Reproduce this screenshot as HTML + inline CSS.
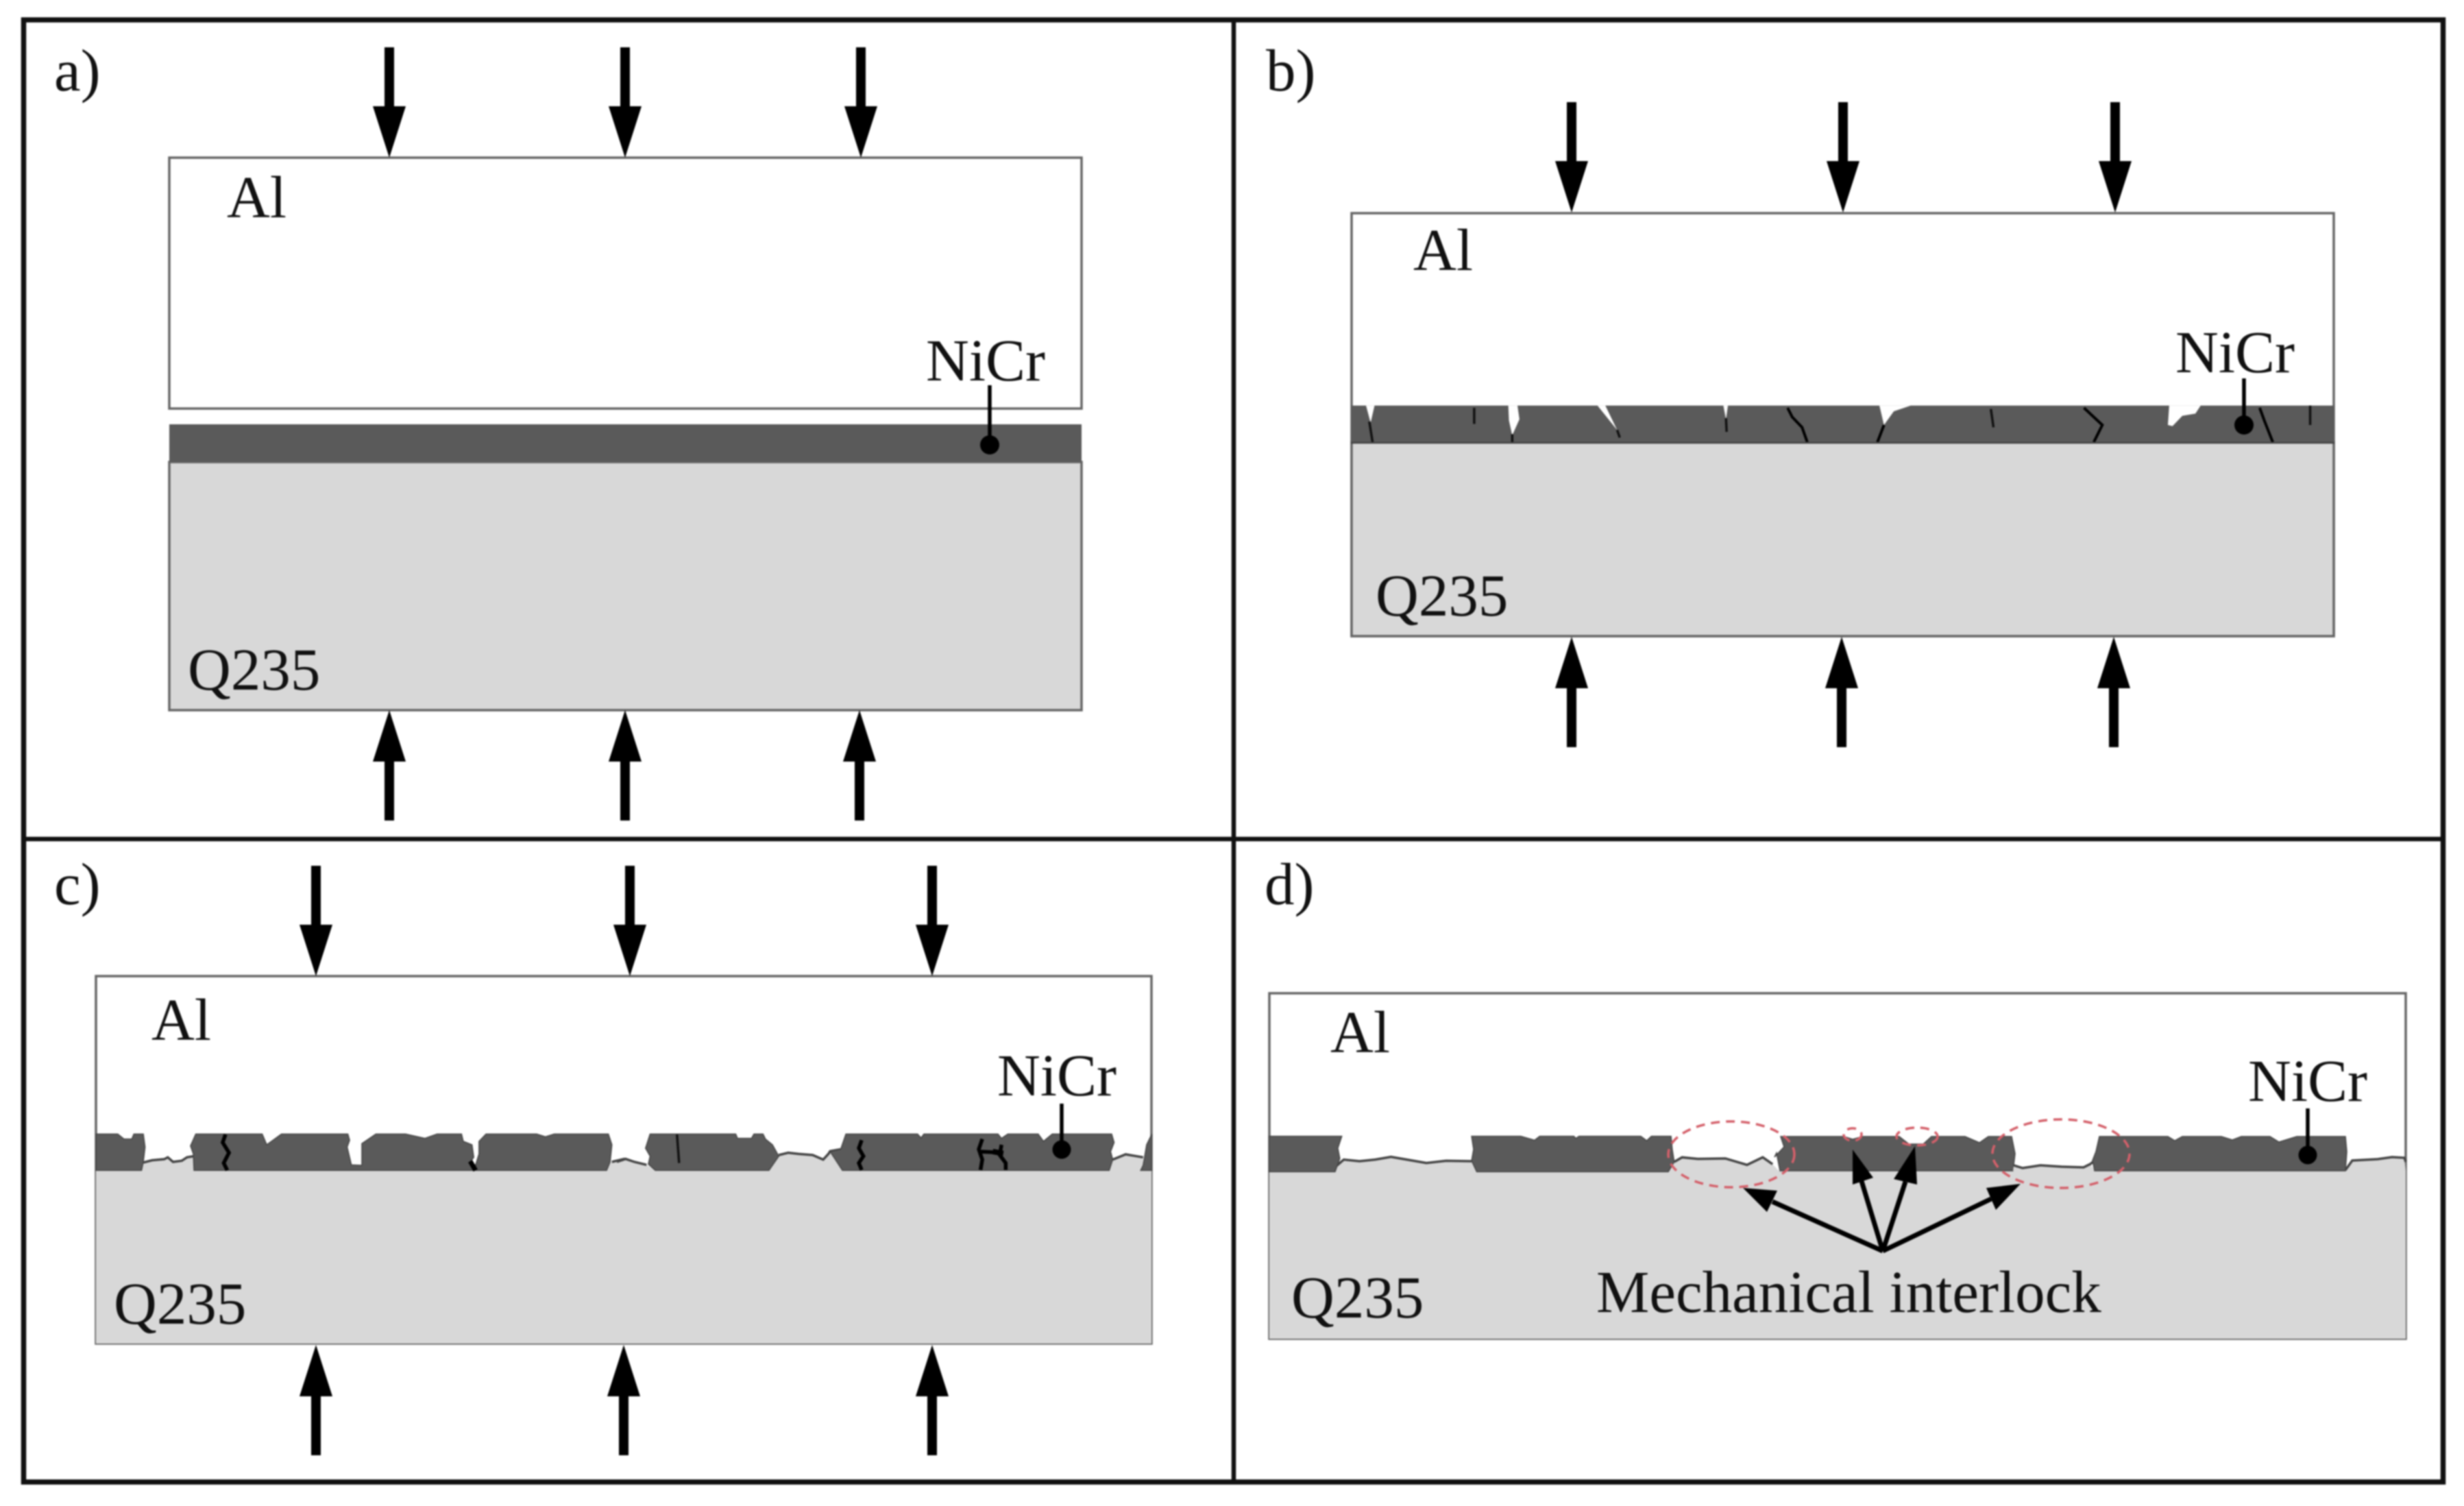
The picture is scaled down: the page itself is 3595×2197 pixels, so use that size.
<!DOCTYPE html>
<html><head><meta charset="utf-8"><style>
html,body{margin:0;padding:0;background:#fff}
svg{display:block;filter:blur(1.1px)}
text{font-family:"Liberation Serif",serif;font-size:87px;fill:#111}
.g{fill:#d8d8d8;stroke:none}
.d{fill:#5a5a5a;stroke:#444;stroke-width:1.5;vector-effect:non-scaling-stroke}
.w{fill:none;stroke:#444;stroke-width:3.5;vector-effect:non-scaling-stroke}
.c{fill:none;stroke:#111;stroke-width:3.5;vector-effect:non-scaling-stroke}
.ct{fill:none;stroke:#000;stroke-width:5.5;vector-effect:non-scaling-stroke}
.wh{fill:#fff;stroke:none}
.r{fill:none;stroke:#666;stroke-width:3.5}
.e{fill:none;stroke:#d4606a;stroke-width:3.5;stroke-dasharray:13 9}
</style></head><body>
<svg width="3595" height="2197" viewBox="0 0 3595 2197" xmlns="http://www.w3.org/2000/svg">
<defs><path id="ad" d="M-7 -161H7V-75H24L0 0L-24 -75H-7Z" fill="#000"/></defs>
<rect width="3595" height="2197" fill="#fff"/>

<!-- Panel a -->
<rect x="247" y="230" width="1331" height="366" fill="#fff" class="r"/>
<rect x="247" y="674" width="1331" height="362" fill="#d8d8d8" stroke="#666" stroke-width="3.5"/>
<rect x="247" y="619" width="1331" height="55" fill="#5a5a5a"/>
<use href="#ad" transform="translate(568,230)"/><use href="#ad" transform="translate(912,230)"/><use href="#ad" transform="translate(1256,230)"/>
<use href="#ad" transform="translate(568,1036) scale(1,-1)"/><use href="#ad" transform="translate(912,1036) scale(1,-1)"/><use href="#ad" transform="translate(1254,1036) scale(1,-1)"/>
<line x1="1444" y1="562" x2="1444" y2="649" stroke="#000" stroke-width="5.5"/><circle cx="1444" cy="649" r="14" fill="#000"/>
<text x="79" y="132">a)</text><text x="331" y="317">Al</text><text x="1351" y="555">NiCr</text><text x="274" y="1006">Q235</text>

<!-- Panel b -->
<rect x="1972" y="311" width="1433" height="617" fill="#fff" stroke="#666" stroke-width="3.5"/>
<rect x="1972" y="645" width="1433" height="283" class="g"/>
<path d="M1972 645H3405V928H1972Z" fill="none" stroke="#666" stroke-width="3.5"/>
<g transform="translate(1950,540) scale(.9566,.3333)">
<rect x="22" y="155" width="1500" height="163" fill="#5a5a5a"/>
<path class="wh" d="M45 155L58 155L52 230ZM262 155L276 155L279 215L268 285L263 220ZM398 155L410 155L428 262ZM590 155L597 155L594 215ZM828 155L876 155L850 180L835 240ZM1270 155L1318 155L1310 190L1290 200L1275 245L1268 240Z"/>
<path class="c" d="M50 225L55 315M210 165L210 235M268 280L268 315M428 262L432 295M594 210L595 270M998 170L1002 250M1485 155L1485 240"/>
<path class="ct" d="M688 165L695 205L710 250L718 315M835 240L825 315M1140 165L1168 240L1155 315M1408 165L1415 220L1428 315" style="stroke-width:4"/>
<path d="M22 318H1522" stroke="#444" stroke-width="2.5" vector-effect="non-scaling-stroke"/>
</g>
<use href="#ad" transform="translate(2293,310)"/><use href="#ad" transform="translate(2689,310)"/><use href="#ad" transform="translate(3086,310)"/>
<use href="#ad" transform="translate(2293,929) scale(1,-1)"/><use href="#ad" transform="translate(2687,929) scale(1,-1)"/><use href="#ad" transform="translate(3084,929) scale(1,-1)"/>
<line x1="3274" y1="552" x2="3274" y2="620" stroke="#000" stroke-width="5.5"/><circle cx="3274" cy="620" r="14" fill="#000"/>
<text x="1847" y="132">b)</text><text x="2062" y="394">Al</text><text x="3174" y="543">NiCr</text><text x="2007" y="898">Q235</text>

<!-- Panel c -->
<rect x="140" y="1424" width="1540" height="536" fill="#fff" stroke="#666" stroke-width="3.5"/>
<rect x="140" y="1707" width="1540" height="253" fill="#d8d8d8"/>
<g transform="translate(130,1620) scale(.5102,.3333)">
<path class="g" d="M20 262L155 228L180 218L215 213L225 205L240 225L265 220L280 205L300 200L740 262L1495 225L1530 212L1568 230V262H20Z"/>
<path class="w" d="M155 228L180 218L215 213L225 205L240 225L265 220L280 205L300 200"/>
<path class="w" d="M1495 225L1530 212L1568 230"/>
<path class="d" d="M20 103L82 103L100 125L122 125L128 103L155 103L160 160L155 225L150 262L20 262Z"/>
<path class="d" d="M305 103L495 103L508 150L550 103L740 103L745 130L738 160L750 238L780 240L780 145L820 103L905 103L960 122L995 103L1065 103L1070 135L1095 150L1100 205L1090 225L1105 240L1115 190L1115 135L1135 103L1280 103L1305 115L1330 103L1485 103L1495 150L1490 225L1480 262L300 262L298 190L290 155Z"/>
<path class="ct" d="M390 105L382 140L400 185L385 230L395 262"/>
<path class="ct" d="M1090 222L1105 262" style="stroke-width:7"/>
</g>
<g transform="translate(900,1620) scale(.5102,.3333)">
<path class="g" d="M0 225L25 212L50 225L85 238L110 262H0ZM430 262L463 200L490 185L520 190L560 195L590 215L605 190L610 178L640 170L650 262ZM1400 262L1418 215L1455 192L1505 205V262Z"/>
<path class="w" d="M0 225L25 212L50 225L85 238M463 195L490 185L520 190L560 195L590 215L605 190L610 178L640 170M1418 215L1455 192L1505 205"/>
<path class="d" d="M95 103L340 103L345 122L385 122L392 103L418 103L425 125L445 150L463 200L435 262L110 262L90 235L95 200L82 165Z"/>
<path class="d" d="M655 103L695 103L705 103L860 103L870 120L878 103L1090 103L1100 122L1118 103L1205 103L1220 135L1245 103L1415 103L1422 140L1412 180L1418 215L1408 262L645 262L610 180L640 170Z"/>
<path class="d" d="M1530 103L1515 150L1505 240L1498 262L1530 262Z"/>
<path class="c" d="M172 105L178 230"/>
<path class="ct" d="M700 130L692 165L705 200L692 230L700 260M1045 125L1035 170L1045 215L1040 260M1100 150L1095 195L1112 230L1112 260M1040 180L1105 185"/>
<path class="ct" d="M1075 180L1105 188" style="stroke-width:8"/>
</g>
<use href="#ad" transform="translate(461,1424)"/><use href="#ad" transform="translate(919,1424)"/><use href="#ad" transform="translate(1360,1424)"/>
<use href="#ad" transform="translate(461,1962) scale(1,-1)"/><use href="#ad" transform="translate(910,1962) scale(1,-1)"/><use href="#ad" transform="translate(1360,1962) scale(1,-1)"/>
<line x1="1549" y1="1610" x2="1549" y2="1677" stroke="#000" stroke-width="5.5"/><circle cx="1549" cy="1677" r="13.5" fill="#000"/>
<text x="79" y="1319">c)</text><text x="221" y="1517">Al</text><text x="1455" y="1598">NiCr</text><text x="166" y="1931">Q235</text>

<!-- Panel d -->
<rect x="1852" y="1449" width="1658" height="504" fill="#fff" stroke="#666" stroke-width="3.5"/>
<rect x="1852" y="1708" width="1658" height="245" fill="#d8d8d8"/>
<g transform="translate(1840,1620) scale(.574,.3333)">
<path class="g" d="M188 268L190 245L210 215L250 222L290 215L330 203L370 215L420 230L470 220L535 222L548 268ZM1035 268L1050 225L1070 205L1110 212L1180 210L1235 238L1275 205L1300 235L1318 268Z"/>
<path class="w" d="M190 245L210 215L250 222L290 215L330 203L370 215L420 230L470 220L535 222M1050 225L1070 205L1110 212L1180 210L1235 238L1275 205L1300 235"/>
<path class="d" d="M20 113L205 113L195 165L200 210L188 268L20 268Z"/>
<path class="d" d="M535 113L660 113L695 130L708 113L795 113L800 122L808 113L965 113L980 132L992 113L1042 113L1045 170L1050 225L1035 268L548 268L535 220L540 170Z"/>
</g>
<path class="d" d="M2598 1658H2690L2703 1662L2718 1658H2771L2785 1669L2806 1669L2818 1658H2867L2888 1667L2901 1658H2935L2940 1683L2937 1708H2597L2592 1682L2589 1688L2603 1673Z"/>
<path class="g" d="M2937 1708L2938 1700L2951 1704L2977 1700L3008 1702L3040 1703L3050 1698L3056 1708ZM3422 1708L3432 1693L3469 1691L3490 1688L3508 1689L3510 1708Z"/>
<path class="w" d="M2938 1700L2951 1704L2977 1700L3008 1702L3040 1703L3050 1698L3056 1693M3422 1707L3432 1693L3469 1691L3490 1688L3508 1689L3510 1695"/>
<path class="d" d="M3063 1658H3163L3173 1664L3184 1658H3241L3257 1663L3270 1658H3312L3325 1666L3351 1658H3422L3424 1680L3422 1708H3056L3053 1693L3058 1680Z"/>
<ellipse class="e" cx="2526" cy="1684" rx="92" ry="48"/>
<ellipse class="e" cx="3007" cy="1683" rx="100" ry="50"/>
<ellipse class="e" cx="2703" cy="1655" rx="13" ry="9"/>
<ellipse class="e" cx="2797" cy="1658" rx="30" ry="13"/>
<g stroke="#000" stroke-width="7" fill="#000">
<line x1="2747" y1="1825" x2="2586" y2="1753"/><line x1="2747" y1="1825" x2="2716" y2="1723"/><line x1="2747" y1="1825" x2="2780" y2="1724"/><line x1="2747" y1="1825" x2="2905" y2="1749"/>
</g>
<path d="M2543 1733L2593 1737L2578 1768ZM2703 1677L2733 1718L2703 1728ZM2794 1672L2797 1728L2763 1720ZM2948 1727L2898 1733L2912 1765Z" fill="#000"/>
<line x1="3367" y1="1617" x2="3367" y2="1685" stroke="#000" stroke-width="5.5"/><circle cx="3367" cy="1685" r="13.5" fill="#000"/>
<text x="1845" y="1319">d)</text><text x="1941" y="1535">Al</text><text x="3280" y="1606">NiCr</text><text x="1884" y="1922">Q235</text><text x="2329" y="1914">Mechanical interlock</text>

<!-- Frame -->
<rect x="34.5" y="29" width="3530" height="2133" fill="none" stroke="#111" stroke-width="7.5"/>
<line x1="1800" y1="29" x2="1800" y2="2162" stroke="#111" stroke-width="6.5"/>
<line x1="34" y1="1224" x2="3565" y2="1224" stroke="#111" stroke-width="6.5"/>
</svg>
</body></html>
